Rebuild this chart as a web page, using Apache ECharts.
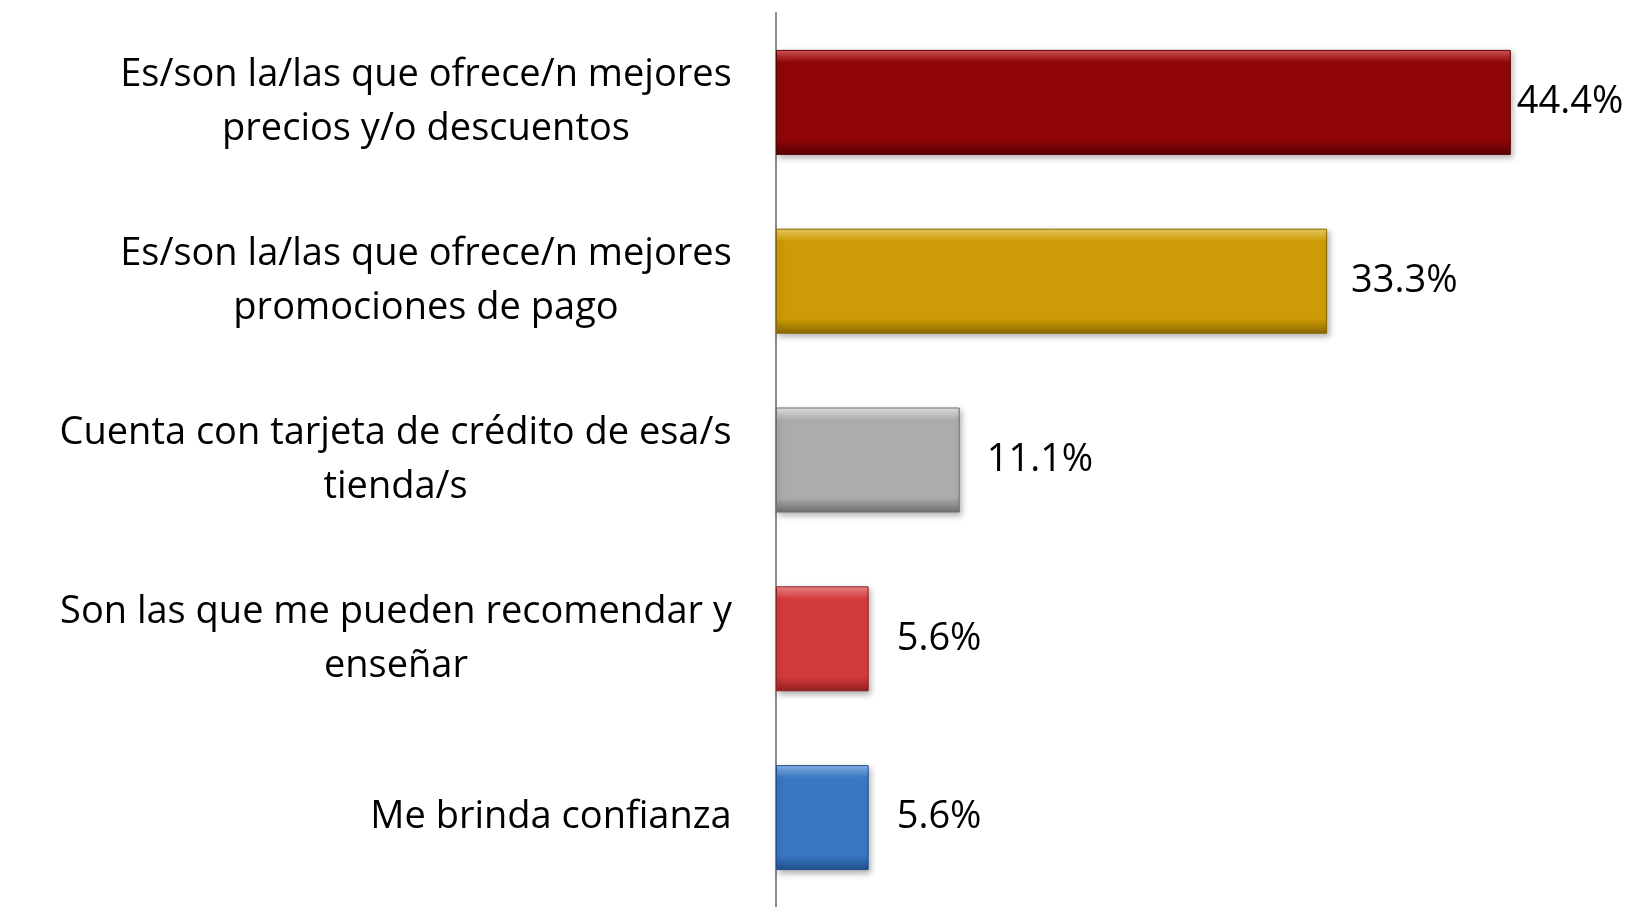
<!DOCTYPE html>
<html>
<head>
<meta charset="utf-8">
<script src="https://cdn.jsdelivr.net/npm/echarts@6/dist/echarts.min.js"></script>
<style>
  html, body { margin: 0; padding: 0; background: #fff; }
  #chart { width: 1642px; height: 907px; }
</style>
</head>
<body>
<div id="chart"></div>
<script>
// datos
const categories = [
  'Es/son la/las que ofrece/n mejores\nprecios y/o descuentos',
  'Es/son la/las que ofrece/n mejores\npromociones de pago',
  'Cuenta con tarjeta de crédito de esa/s\ntienda/s',
  'Son las que me pueden recomendar y\nenseñar',
  'Me brinda confianza'
]
const values = [44.4, 33.3, 11.1, 5.6, 5.6]

// colores de cada barra: [borde claro, principal, borde oscuro]
const palette = [
  ['#d9585a', '#8f0508', '#5a0203'],
  ['#f2d060', '#cc9b06', '#8a6803'],
  ['#e6e6e6', '#acacac', '#6f6f6f'],
  ['#f08a8a', '#d43b3b', '#922020'],
  ['#8ab6ec', '#3a78c4', '#1f4f8c']
]
const labelGap = [6, 24, 27, 28, 28]

const FONT = 'Open Sans'
const FONT_SIZE = 38

const measure = (() => {
  const c = document.createElement('canvas').getContext('2d')
  c.font = FONT_SIZE + 'px "' + FONT + '"'
  return (t) => c.measureText(t).width
})()

// cada etiqueta centrada en su propio bloque, bloque alineado a la derecha
const rich = {}
categories.forEach((cat, i) => {
  const w = Math.max(...cat.split('\n').map(measure))
  rich['c' + i] = {
    width: Math.ceil(w) + 2,
    align: 'center',
    fontFamily: FONT,
    fontSize: FONT_SIZE,
    lineHeight: 54,
    color: '#000'
  }
})

const bevel = (c) => ({
  type: 'linear', x: 0, y: 0, x2: 0, y2: 1,
  colorStops: [
    { offset: 0, color: c[0] },
    { offset: 0.12, color: c[1] },
    { offset: 0.86, color: c[1] },
    { offset: 1, color: c[2] }
  ]
})

const chart = echarts.init(document.getElementById('chart'))
chart.setOption({
  backgroundColor: '#fff',
  animation: false,
  grid: { left: 776, right: 38.5, top: 13, height: 896 },
  xAxis: {
    type: 'value',
    min: 0,
    max: 50,
    show: false,
    splitLine: { show: false }
  },
  yAxis: {
    type: 'category',
    inverse: true,
    data: categories,
    axisLine: { show: true, lineStyle: { color: '#8c8c8c', width: 2 } },
    axisTick: { show: false },
    axisLabel: {
      margin: 43,
      formatter: (v, idx) => v.split('\n').map(l => `{c${idx}|${l}}`).join('\n'),
      rich: rich
    }
  },
  series: [{
    type: 'bar',
    barWidth: 105,
    data: values.map((v, i) => ({
      value: v,
      itemStyle: {
        color: bevel(palette[i]),
        borderColor: palette[i][2],
        borderWidth: 1,
        shadowColor: 'rgba(0,0,0,0.3)',
        shadowBlur: 6,
        shadowOffsetY: 3,
        shadowOffsetX: 2
      },
      label: { distance: labelGap[i] }
    })),
    label: {
      show: true,
      position: 'right',
      formatter: (p) => p.value.toFixed(1) + '%',
      fontFamily: FONT,
      fontSize: FONT_SIZE,
      color: '#000'
    }
  }]
})
</script>
</body>
</html>
